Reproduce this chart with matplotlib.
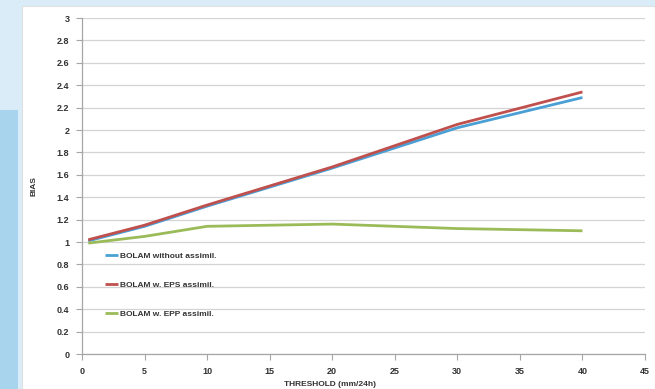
import matplotlib
matplotlib.use("Agg")
import matplotlib.pyplot as plt
from matplotlib.patches import Rectangle

thresholds = [0.5, 5, 10, 20, 30, 40]
bias_without = [1.01, 1.14, 1.32, 1.66, 2.02, 2.29]
bias_eps = [1.02, 1.15, 1.33, 1.67, 2.05, 2.34]
bias_epp = [0.99, 1.05, 1.14, 1.16, 1.12, 1.10]
labels = ["BOLAM without assimil.", "BOLAM w. EPS assimil.", "BOLAM w. EPP assimil."]
colors = ["#4a9fd4", "#c0504d", "#9bbb59"]
xticks = [0, 5, 10, 15, 20, 25, 30, 35, 40, 45]
yticks = [0, 0.2, 0.4, 0.6, 0.8, 1, 1.2, 1.4, 1.6, 1.8, 2, 2.2, 2.4, 2.6, 2.8, 3]

plt.rcParams['font.family'] = ['Liberation Sans', 'DejaVu Sans']

W, H = 655, 389
fig = plt.figure(figsize=(W / 100, H / 100), dpi=100, facecolor="#d9ecf7")
# white chart area
fig.patches.append(Rectangle((22 / W, 0), 1 - 22 / W, 1 - 6 / H, transform=fig.transFigure,
                             facecolor="white", edgecolor="#e0e0e0", lw=0.8, zorder=-2))
# left blue strip
fig.patches.append(Rectangle((0, 0), 18 / W, 1 - 110 / H, transform=fig.transFigure,
                             facecolor="#a9d4ee", edgecolor="none", zorder=-2))

ax = fig.add_axes([82 / W, 1 - 354 / H, (645 - 82) / W, (354 - 18) / H])
ax.set_zorder(5)
ax.set_facecolor("none")

for ys, lab, c in zip([bias_without, bias_eps, bias_epp], labels, colors):
    ax.plot(thresholds, ys, color=c, lw=2.0, label=lab, solid_capstyle="butt")

ax.set_xlim(0, 45)
ax.set_ylim(0, 3)
ax.set_xticks(xticks)
ax.set_xticklabels([str(v) for v in xticks])
ax.set_yticks(yticks)
ax.set_yticklabels([("%g" % v) for v in yticks])
ax.grid(axis="y", color="#d4d4d4", lw=0.9)
ax.set_axisbelow(True)
for s in ["top", "right"]:
    ax.spines[s].set_visible(False)
for s in ["left", "bottom"]:
    ax.spines[s].set_color("#a6a6a6")
    ax.spines[s].set_linewidth(0.9)
ax.tick_params(axis="both", colors="#a6a6a6", length=4, width=0.8, labelsize=6.5,
               labelcolor="#333333", pad=5)
for t in ax.get_xticklabels() + ax.get_yticklabels():
    t.set_fontweight("bold")

ax.set_ylabel("BIAS", fontsize=6, fontweight="bold", color="#333333", labelpad=14)
fig.text(330 / W, 1 - 384 / H, "THRESHOLD (mm/24h)", fontsize=6, fontweight="bold",
         color="#333333", ha="center", va="center")

leg = ax.legend(loc="upper left", bbox_to_anchor=(0.035, 0.313), frameon=False,
                fontsize=6, handlelength=1.6, handletextpad=0.15, labelspacing=2.55,
                borderaxespad=0)
for t in leg.get_texts():
    t.set_fontweight("bold")
    t.set_color("#333333")

fig.savefig("out.png", dpi=100, facecolor=fig.get_facecolor())
